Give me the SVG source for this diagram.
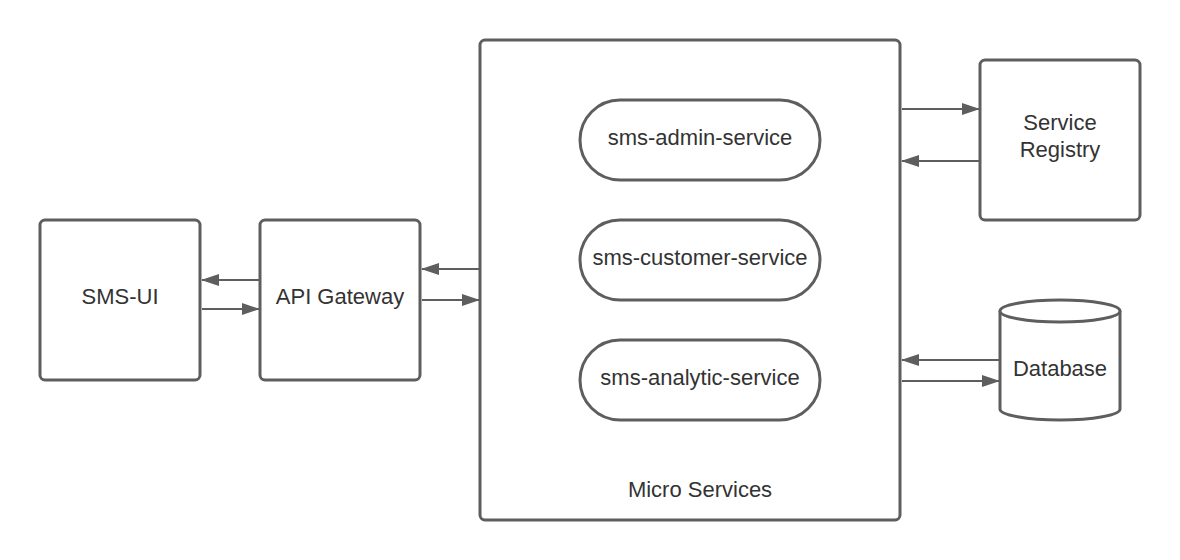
<svg xmlns="http://www.w3.org/2000/svg" width="1180" height="560" viewBox="0 0 1180 560">
<style>
.box{fill:#fff;stroke:#5e5e5e;stroke-width:3}
.lbl{font-family:"Liberation Sans",Arial,sans-serif;font-size:22px;fill:#333;text-anchor:middle}
.conn{stroke:#5e5e5e;stroke-width:2;fill:none}
</style>
<defs>
<marker id="ah" markerWidth="18" markerHeight="12" refX="17" refY="6" orient="auto" markerUnits="userSpaceOnUse">
<path d="M0,0 L18,6 L0,12 z" fill="#5e5e5e"/>
</marker>
</defs>
<rect width="1180" height="560" fill="#fff"/>
<g id="micro-services">
<rect class="box" x="480" y="40" width="420" height="480" rx="5"/>
<text class="lbl" x="700" y="497">Micro Services</text>
</g>
<g id="sms-ui">
<rect class="box" x="40" y="220" width="160" height="160" rx="5"/>
<text class="lbl" x="120" y="304">SMS-UI</text>
</g>
<g id="api-gateway">
<rect class="box" x="260" y="220" width="160" height="160" rx="5"/>
<text class="lbl" x="340" y="304">API Gateway</text>
</g>
<g id="sms-admin-service">
<rect class="box" x="580" y="100" width="240" height="80" rx="40"/>
<text class="lbl" x="700" y="145">sms-admin-service</text>
</g>
<g id="sms-customer-service">
<rect class="box" x="580" y="220" width="240" height="80" rx="40"/>
<text class="lbl" x="700" y="265">sms-customer-service</text>
</g>
<g id="sms-analytic-service">
<rect class="box" x="580" y="340" width="240" height="80" rx="40"/>
<text class="lbl" x="700" y="385">sms-analytic-service</text>
</g>
<g id="service-registry">
<rect class="box" x="980" y="60" width="160" height="160" rx="5"/>
<text class="lbl" x="1060" y="130">Service</text>
<text class="lbl" x="1060" y="157">Registry</text>
</g>
<g id="database">
<path class="box" d="M1000,311 A60,11 0 0 1 1120,311 L1120,409 A60,11 0 0 1 1000,409 Z"/>
<path class="box" d="M1000,311 A60,11 0 0 0 1120,311" fill="none"/>
<text class="lbl" x="1060" y="376">Database</text>
</g>
<g id="connectors">
<line class="conn" x1="259" y1="280" x2="202" y2="280" marker-end="url(#ah)"/>
<line class="conn" x1="202" y1="309" x2="259" y2="309" marker-end="url(#ah)"/>
<line class="conn" x1="479" y1="269" x2="422" y2="269" marker-end="url(#ah)"/>
<line class="conn" x1="422" y1="300" x2="479" y2="300" marker-end="url(#ah)"/>
<line class="conn" x1="902" y1="109" x2="979" y2="109" marker-end="url(#ah)"/>
<line class="conn" x1="979" y1="161" x2="902" y2="161" marker-end="url(#ah)"/>
<line class="conn" x1="999" y1="360" x2="902" y2="360" marker-end="url(#ah)"/>
<line class="conn" x1="902" y1="381" x2="999" y2="381" marker-end="url(#ah)"/>
</g>
</svg>
